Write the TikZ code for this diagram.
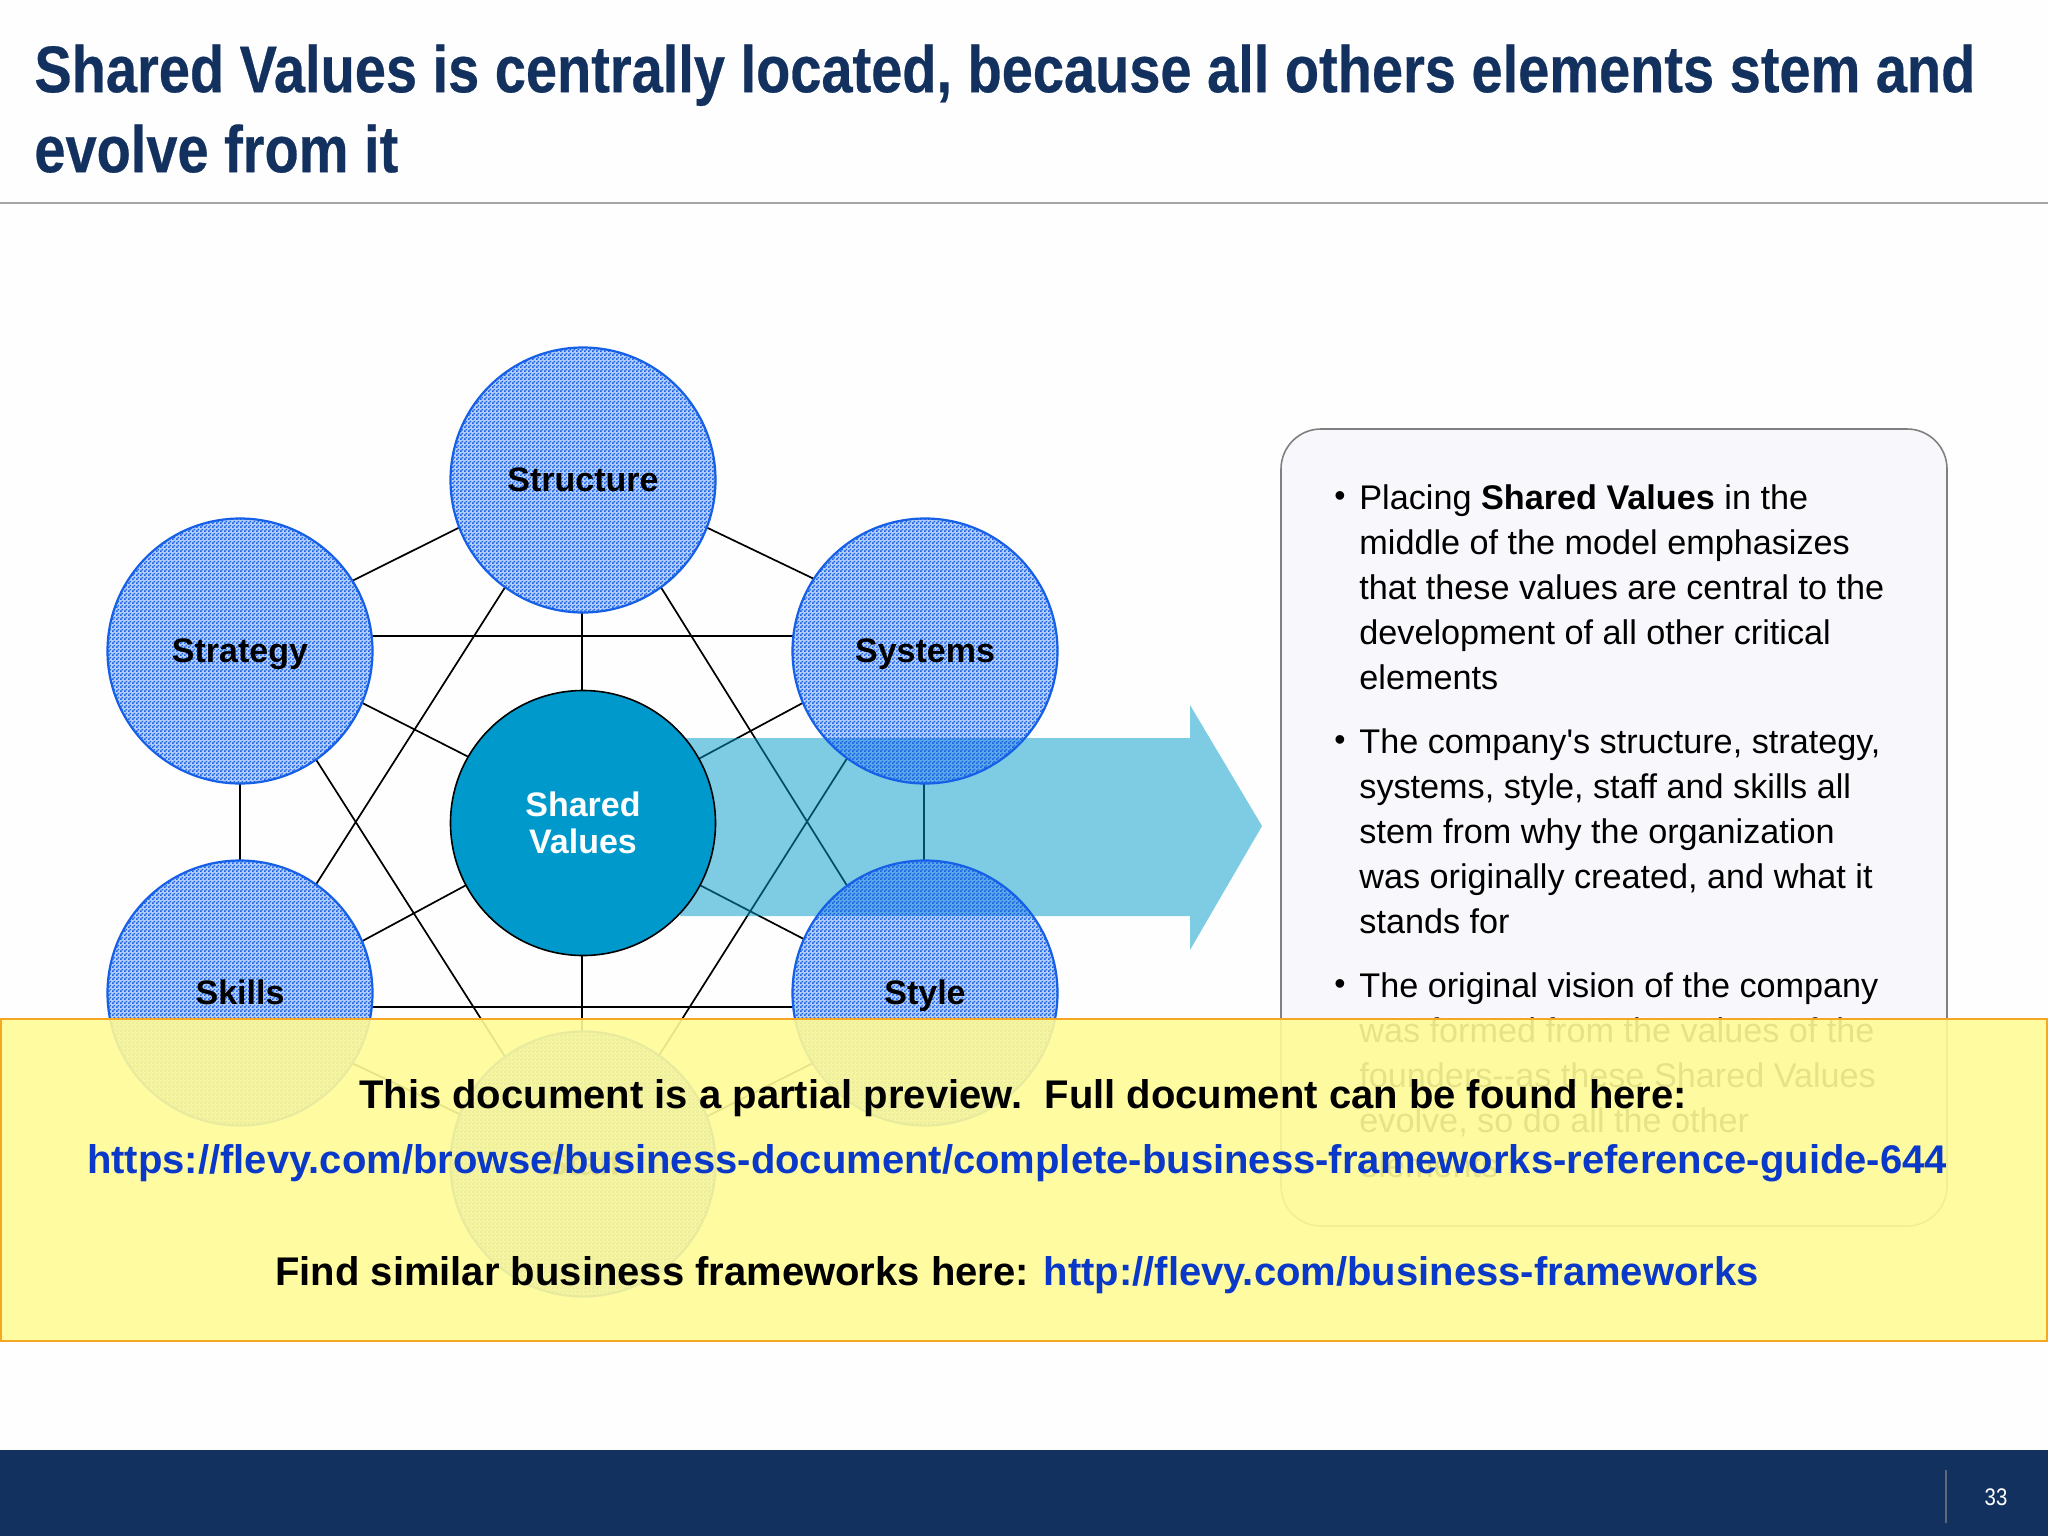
\documentclass[tikz,border=0pt]{standalone}
\usepackage{fontspec}
\setmainfont[Ligatures=TeXOff]{Liberation Sans}
\newfontfamily\titlefont[FakeStretch=0.848, BoldFeatures={FakeBold=0.4}]{Liberation Sans}
\usetikzlibrary{positioning}
\usetikzlibrary{patterns}
\definecolor{navy}{HTML}{12315F}
\definecolor{ringblue}{HTML}{1560E6}
\definecolor{coreblue}{HTML}{0099CC}
\definecolor{linkblue}{HTML}{0A38C8}
\definecolor{panelfill}{HTML}{F8F7FB}
\definecolor{notefill}{HTML}{FFFB96}
\definecolor{noteline}{HTML}{F5A623}
\pgfdeclarepatternformonly{checker}{\pgfqpoint{0pt}{0pt}}{\pgfqpoint{2pt}{2pt}}{\pgfqpoint{2pt}{2pt}}{%
    \pgfpathrectangle{\pgfqpoint{0pt}{0pt}}{\pgfqpoint{1pt}{1pt}}%
    \pgfpathrectangle{\pgfqpoint{1pt}{1pt}}{\pgfqpoint{1pt}{1pt}}%
    \pgfusepath{fill}}
\pgfdeclarelayer{back}
\pgfsetlayers{back,main}

\begin{document}
\begin{tikzpicture}[x=.5pt, y=-.5pt, on grid,
        element/.style={draw=ringblue, line width=1.1pt, circle, minimum size=132.5pt, inner sep=0pt, outer sep=0pt, fill=ringblue, fill opacity=.3, postaction={fill opacity=1, pattern=checker, pattern color=ringblue}},
        elementname/.style={font=\fontsize{17}{20}\selectfont\bfseries, text=black, text height=14pt, text depth=2.6pt, inner sep=0pt},
        core/.style={draw=black, line width=.8pt, circle, minimum size=132.5pt, inner sep=0pt, outer sep=0pt, fill=coreblue, align=center, text=white, font=\fontsize{17}{18.3}\selectfont\bfseries},
        link/.style={-, line width=.85pt, black},
        bodytext/.style={anchor=north west, inner sep=0pt, align=left, font=\fontsize{17.1}{22.5}\selectfont},
        dotmark/.style={inner sep=0pt, font=\fontsize{16}{16}\selectfont},
        panel/.style={draw=gray, line width=.8pt, fill=panelfill, rounded corners=20pt, minimum width=333pt, minimum height=398.5pt},
        note/.style={draw=noteline, line width=1.1pt, fill=notefill, fill opacity=.9, minimum width=1023pt, minimum height=161pt},
        notetext/.style={inner sep=0pt, font=\fontsize{20}{22}\selectfont\bfseries, text=black}]
        \useasboundingbox (0,0) rectangle (2048,1536);

        \node[element] (structure) at (583,480) {};
        \node[element, below left = 85.5pt and 171.5pt of structure] (strategy) {};
        \node[element, below right = 85.5pt and 171pt of structure] (systems) {};
        \node[core, below = 171.5pt of structure] (shared) {Shared\\Values};
        \node[element, below = 171pt of strategy] (skills) {};
        \node[element, below = 171pt of systems] (style) {};
        \node[element, below = 170.5pt of shared] (staff) {};

        \node[elementname] (structurename) at (structure) {Structure};
        \node[elementname] (strategyname) at (strategy) {Strategy};
        \node[elementname] (systemsname) at (systems) {Systems};
        \node[elementname] (skillsname) at (skills) {Skills};
        \node[elementname] (stylename) at (style) {Style};
        \node[elementname] (staffname) at (staff) {Staff};

        \coordinate (upperbar) at (0,636);
        \coordinate (lowerbar) at (0,1007);

        \begin{pgfonlayer}{back}
            \fill[white!99.6!black] (0,0) rectangle (2048,1536);

            \draw[link] (structure.201.5) -- (strategy.32.3);
            \draw[link] (structure.-21.5) -- (systems.147.7);
            \draw[link] (strategy.6.5 |- upperbar) -- (systems.173.5 |- upperbar);
            \draw[link] (strategy) -- (skills);
            \draw[link] ([xshift=-.6pt]systems.south) -- ([xshift=-.6pt]style.north);
            \draw[link] (skills.-6.5 |- lowerbar) -- (style.186.5 |- lowerbar);
            \draw[link] (skills.-32.3) -- (staff.158.5);
            \draw[link] (style.212.3) -- (staff.21.5);
            \draw[link] ([xshift=-.6pt]structure.south) -- ([xshift=-.6pt]shared.north);
            \draw[link] (strategy.-23) -- (shared.150.7);
            \draw[link] (systems.203) -- (shared.29.3);
            \draw[link] (skills.23.6) -- (shared.208.3);
            \draw[link] (style.156.4) -- (shared.-28.3);
            \draw[link] ([xshift=-.6pt]staff.north) -- ([xshift=-.6pt]shared.south);
            \draw[link] (structure.234) -- (skills.55);
            \draw[link] (structure.-54.6) -- (style.126);
            \draw[link] (strategy.-55) -- (staff.126);
            \draw[link] (systems.234) -- (staff.55);

            \fill[coreblue, opacity=.5] (680,738) -- (1190,738) -- (1190,705) -- (1262,826) -- (1190,950) -- (1190,916) -- (680,916) -- cycle;
        \end{pgfonlayer}

        \draw[gray!70, line width=.9pt] (0,203) -- (2048,203);
        \node[anchor=north west, inner sep=0pt, align=left, text=navy, font=\titlefont\fontsize{33}{40}\selectfont\bfseries] (headline) at (34,44) {Shared Values is centrally located, because all others elements stem and\\evolve from it};

        \node[panel] (box) at (1614,827.5) {};
        \node[bodytext] (pone) at (1359,484) {Placing \textbf{Shared Values} in the\\middle of the model emphasizes\\that these values are central to the\\development of all other critical\\elements};
        \node[bodytext] (ptwo) at (1359,728) {The company's structure, strategy,\\systems, style, staff and skills all\\stem from why the organization\\was originally created, and what it\\stands for};
        \node[bodytext] (pthree) at (1359,972) {The original vision of the company\\was formed from the values of the\\founders--as these Shared Values\\evolve, so do all the other\\elements};
        \node[dotmark] (dotone) at (1340,499) {•};
        \node[dotmark] (dottwo) at (1340,743) {•};
        \node[dotmark] (dotthree) at (1340,987) {•};

        \node[note] (preview) at (1024,1180) {};
        \node[notetext] (lineone) at (1023,1098) {This document is a partial preview.\ \ Full document can be found here:};
        \node[notetext, text=linkblue] (linetwo) at (1017,1163) {https://flevy.com/browse/business-document/complete-business-frameworks-reference-guide-644};
        \node[notetext] (linethree) at (1017,1275) {Find similar business frameworks here: \textcolor{linkblue}{http://flevy.com/business-frameworks}};

        \fill[navy] (0,1450) rectangle (2048,1536);
        \draw[gray!70!navy, line width=.6pt] (1946,1470) -- (1946,1523);
        \node[inner sep=0pt, text=white, font=\titlefont\fontsize{12}{13}\selectfont] (pagenum) at (1996,1497) {33};
    \end{tikzpicture}
\end{document}
